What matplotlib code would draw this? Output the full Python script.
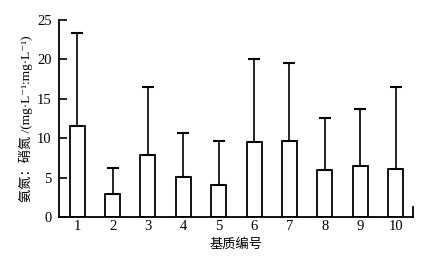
import numpy as np
import matplotlib.pyplot as plt

# 数据：基质编号、均值、误差上限
substrate = ['1', '2', '3', '4', '5', '6', '7', '8', '9', '10']
mean_vals = [11.6, 2.9, 7.8, 5.1, 4.0, 9.5, 9.6, 5.9, 6.5, 6.1]
upper_vals = [23.4, 6.2, 16.5, 10.6, 9.6, 20.1, 19.6, 12.5, 13.7, 16.5]

err = np.array(upper_vals) - np.array(mean_vals)
x = np.arange(1, len(substrate) + 1)

plt.rcParams['font.family'] = ['Liberation Serif', 'Noto Sans CJK SC', 'DejaVu Serif']

fig = plt.figure(figsize=(4.27, 2.57), dpi=100)
ax = fig.add_axes([0.1375, 0.156, 0.8305, 0.766])

ax.bar(x, mean_vals, width=0.42, color='white', edgecolor='black', linewidth=1.3,
       yerr=[np.zeros_like(err), err], capsize=4,
       error_kw=dict(elinewidth=1.2, capthick=1.5, ecolor='black'))

ax.set_xlim(0.48, 10.5)
ax.set_ylim(0, 25)
ax.set_xticks(x)
ax.set_xticklabels(substrate)
ax.set_yticks([0, 5, 10, 15, 20, 25])

ax.tick_params(axis='x', length=0, labelsize=10.5, pad=2)
ax.tick_params(axis='y', direction='in', length=6, width=1.2, labelsize=10.5, pad=5)

ax.spines['top'].set_visible(False)
ax.spines['right'].set_bounds(0, 1.2)
for s in ['left', 'bottom', 'right']:
    ax.spines[s].set_linewidth(1.3)

ax.set_xlabel('基质编号', fontsize=9.5, labelpad=4)
ax.set_ylabel('氨氮：硝氮 /(mg·L⁻¹:mg·L⁻¹)', fontsize=9.5, labelpad=3)

fig.savefig('out.png', dpi=100)
